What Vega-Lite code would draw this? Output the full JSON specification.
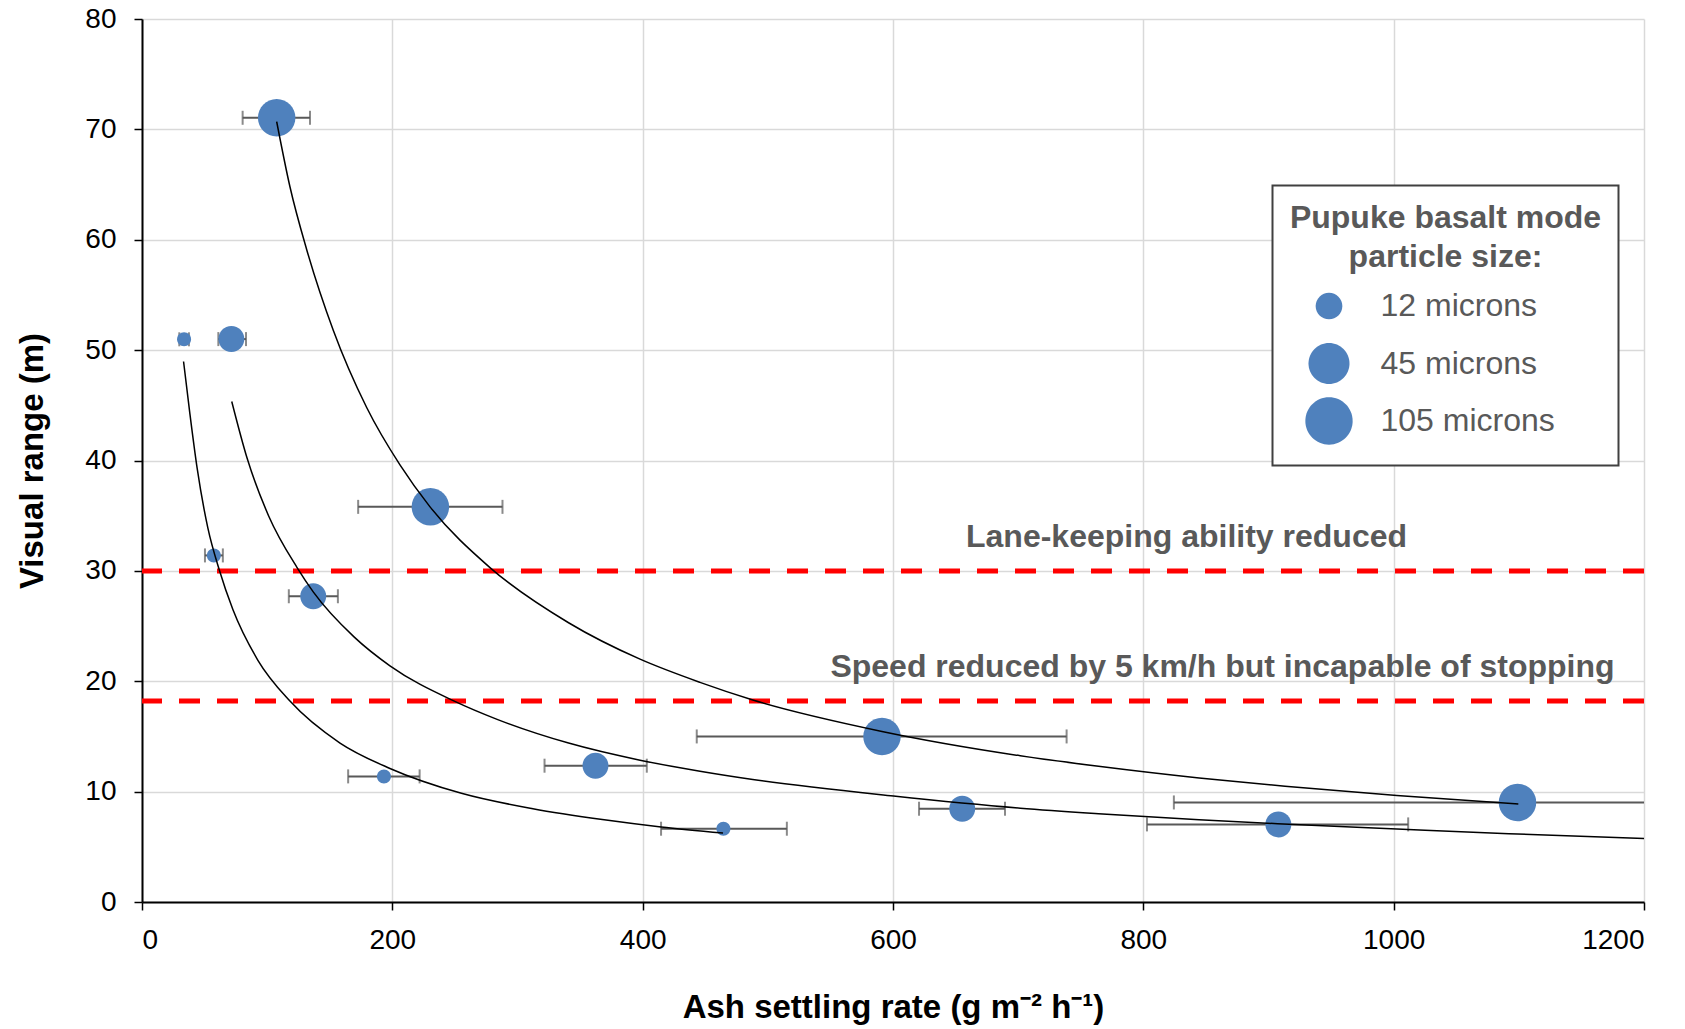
{
  "$schema": "https://vega.github.io/schema/vega-lite/v6.json",
  "width": 1502,
  "height": 883,
  "autosize": {"type": "none"},
  "padding": {"left": 142, "top": 19, "right": 41, "bottom": 127},
  "background": "white",
  "datasets": {
    "points": [
      {"x": 107.6, "y": 71.05, "xlo": 80.4, "xhi": 134.2, "um": 105},
      {"x": 33.6, "y": 50.98, "xlo": 29.8, "xhi": 37.5, "um": 12},
      {"x": 71.4, "y": 51.0, "xlo": 61.0, "xhi": 83.1, "um": 45},
      {"x": 230.4, "y": 35.8, "xlo": 172.7, "xhi": 288.0, "um": 105},
      {"x": 57.4, "y": 31.4, "xlo": 50.3, "xhi": 64.6, "um": 12},
      {"x": 136.8, "y": 27.7, "xlo": 117.3, "xhi": 156.5, "um": 45},
      {"x": 193.3, "y": 11.38, "xlo": 164.7, "xhi": 221.8, "um": 12},
      {"x": 362.3, "y": 12.35, "xlo": 321.6, "xhi": 403.3, "um": 45},
      {"x": 464.5, "y": 6.64, "xlo": 414.7, "xhi": 515.2, "um": 12},
      {"x": 591.2, "y": 15.0, "xlo": 443.2, "xhi": 738.7, "um": 105},
      {"x": 655.3, "y": 8.45, "xlo": 620.8, "xhi": 689.5, "um": 45},
      {"x": 907.9, "y": 7.03, "xlo": 802.9, "xhi": 1011.6, "um": 45},
      {"x": 1098.9, "y": 9.02, "xlo": 824.4, "xhi": 1373.4, "um": 105}
    ],
    "curves": [
      {"curve": "12", "x": 33.2, "y": 48.97},
      {"curve": "12", "x": 38.3, "y": 44.2},
      {"curve": "12", "x": 44.05, "y": 39.3},
      {"curve": "12", "x": 52.6, "y": 33.9},
      {"curve": "12", "x": 61.7, "y": 30.1},
      {"curve": "12", "x": 72.6, "y": 26.5},
      {"curve": "12", "x": 92.6, "y": 21.9},
      {"curve": "12", "x": 118.2, "y": 18.2},
      {"curve": "12", "x": 158.2, "y": 14.4},
      {"curve": "12", "x": 198.1, "y": 12.1},
      {"curve": "12", "x": 255.2, "y": 9.85},
      {"curve": "12", "x": 312.3, "y": 8.45},
      {"curve": "12", "x": 369.3, "y": 7.45},
      {"curve": "12", "x": 414.7, "y": 6.8},
      {"curve": "12", "x": 464.2, "y": 6.25},
      {"curve": "45", "x": 71.7, "y": 45.35},
      {"curve": "45", "x": 84.0, "y": 40.2},
      {"curve": "45", "x": 101.1, "y": 35.0},
      {"curve": "45", "x": 123.9, "y": 30.3},
      {"curve": "45", "x": 136.8, "y": 28.1},
      {"curve": "45", "x": 169.6, "y": 24.0},
      {"curve": "45", "x": 198.1, "y": 21.4},
      {"curve": "45", "x": 249.5, "y": 18.2},
      {"curve": "45", "x": 283.7, "y": 16.55},
      {"curve": "45", "x": 340.8, "y": 14.4},
      {"curve": "45", "x": 397.9, "y": 12.85},
      {"curve": "45", "x": 445.8, "y": 11.85},
      {"curve": "45", "x": 488.0, "y": 11.1},
      {"curve": "45", "x": 600.4, "y": 9.6},
      {"curve": "45", "x": 701.7, "y": 8.5},
      {"curve": "45", "x": 764.2, "y": 8.0},
      {"curve": "45", "x": 844.6, "y": 7.45},
      {"curve": "45", "x": 907.3, "y": 7.09},
      {"curve": "45", "x": 1002.6, "y": 6.61},
      {"curve": "45", "x": 1092.1, "y": 6.18},
      {"curve": "45", "x": 1200, "y": 5.76},
      {"curve": "105", "x": 107.6, "y": 70.7},
      {"curve": "105", "x": 118.2, "y": 64.8},
      {"curve": "105", "x": 131.6, "y": 59.1},
      {"curve": "105", "x": 152.8, "y": 51.8},
      {"curve": "105", "x": 179.5, "y": 44.8},
      {"curve": "105", "x": 206.1, "y": 39.6},
      {"curve": "105", "x": 230.1, "y": 35.8},
      {"curve": "105", "x": 278.0, "y": 30.3},
      {"curve": "105", "x": 340.8, "y": 25.3},
      {"curve": "105", "x": 397.9, "y": 22.0},
      {"curve": "105", "x": 445.8, "y": 19.9},
      {"curve": "105", "x": 488.0, "y": 18.3},
      {"curve": "105", "x": 591.2, "y": 15.45},
      {"curve": "105", "x": 701.7, "y": 13.25},
      {"curve": "105", "x": 764.2, "y": 12.3},
      {"curve": "105", "x": 844.6, "y": 11.24},
      {"curve": "105", "x": 913.2, "y": 10.49},
      {"curve": "105", "x": 1002.6, "y": 9.64},
      {"curve": "105", "x": 1099.6, "y": 8.88}
    ],
    "thresholds": [
      {"level": 30},
      {"level": 18.2}
    ],
    "notes": [
      {"label": "Lane-keeping ability reduced", "x": 834.5, "y": 32.2},
      {"label": "Speed reduced by 5 km/h but incapable of stopping", "x": 863.2, "y": 20.4}
    ]
  },
  "layer": [
    {
      "data": {"name": "thresholds"},
      "mark": {"type": "rule", "color": "#ff0000", "strokeWidth": 5, "strokeDash": [21, 17]},
      "encoding": {
        "y": {"field": "level", "type": "quantitative", "title": "Visual range (m)"}
      }
    },
    {
      "data": {"name": "notes"},
      "mark": {"type": "text", "font": "Liberation Sans", "fontSize": 32, "fontWeight": "bold", "color": "#595959", "align": "center", "baseline": "alphabetic"},
      "encoding": {
        "x": {"field": "x", "type": "quantitative", "title": "Ash settling rate (g m⁻² h⁻¹)"},
        "y": {"field": "y", "type": "quantitative", "title": "Visual range (m)"},
        "text": {"field": "label"}
      }
    },
    {
      "data": {"name": "points"},
      "mark": {"type": "rule", "color": "#595959", "strokeWidth": 2, "clip": true},
      "encoding": {
        "x": {"field": "xlo", "type": "quantitative", "title": "Ash settling rate (g m⁻² h⁻¹)"},
        "x2": {"field": "xhi"},
        "y": {"field": "y", "type": "quantitative", "title": "Visual range (m)"}
      }
    },
    {
      "data": {"name": "points"},
      "mark": {"type": "tick", "orient": "vertical", "color": "#595959", "size": 14, "thickness": 2, "clip": true},
      "encoding": {
        "x": {"field": "xlo", "type": "quantitative", "title": "Ash settling rate (g m⁻² h⁻¹)"},
        "y": {"field": "y", "type": "quantitative", "title": "Visual range (m)"}
      }
    },
    {
      "data": {"name": "points"},
      "mark": {"type": "tick", "orient": "vertical", "color": "#595959", "size": 14, "thickness": 2, "clip": true},
      "encoding": {
        "x": {"field": "xhi", "type": "quantitative", "title": "Ash settling rate (g m⁻² h⁻¹)"},
        "y": {"field": "y", "type": "quantitative", "title": "Visual range (m)"}
      }
    },
    {
      "data": {"name": "points"},
      "mark": {"type": "point", "filled": true, "color": "#4f81bd", "opacity": 1, "strokeWidth": 0},
      "encoding": {
        "x": {
          "field": "x", "type": "quantitative", "title": "Ash settling rate (g m⁻² h⁻¹)",
          "scale": {"domain": [0, 1200], "nice": false, "zero": true},
          "axis": {"values": [0, 200, 400, 600, 800, 1000, 1200], "format": "d", "labelPadding": 16, "titlePadding": 37}
        },
        "y": {
          "field": "y", "type": "quantitative", "title": "Visual range (m)",
          "scale": {"domain": [0, 80], "nice": false},
          "axis": {"values": [0, 10, 20, 30, 40, 50, 60, 70, 80], "format": "d", "labelPadding": 18, "titlePadding": 35}
        },
        "size": {
          "field": "um", "type": "quantitative",
          "scale": {"type": "linear", "domain": [12, 105], "range": [615, 1406], "zero": false},
          "legend": null
        },
        "shape": {
          "field": "um", "type": "nominal",
          "scale": {
            "domain": [12, 45, 105],
            "range": [
              "M-0.5645,0A0.5645,0.5645,0,1,0,0.5645,0A0.5645,0.5645,0,1,0,-0.5645,0Z",
              "M-0.8668,0A0.8668,0.8668,0,1,0,0.8668,0A0.8668,0.8668,0,1,0,-0.8668,0Z",
              "M-1,0A1,1,0,1,0,1,0A1,1,0,1,0,-1,0Z"
            ]
          },
          "legend": {
            "orient": "none",
            "legendX": 1130.5,
            "legendY": 166.5,
            "labelExpr": "datum.label + ' microns'",
            "title": ["Pupuke basalt mode", "particle size:"],
            "titleFont": "Liberation Sans",
            "titleFontSize": 32,
            "titleFontWeight": "bold",
            "titleColor": "#595959",
            "titleAlign": "center",
            "titleAnchor": "middle",
            "titleLineHeight": 39,
            "titlePadding": 8,
            "titleLimit": 600,
            "labelLimit": 600,
            "labelFont": "Liberation Sans",
            "labelFontSize": 32,
            "labelColor": "#595959",
            "labelOffset": 27,
            "padding": 17,
            "symbolSize": 2237,
            "symbolOffset": -31,
            "rowPadding": 2.5,
            "gridAlign": "all",
            "strokeColor": "#404040",
            "fillColor": "white"
          }
        }
      }
    },
    {
      "data": {"name": "curves"},
      "mark": {"type": "line", "color": "black", "strokeWidth": 1.5, "interpolate": "monotone", "clip": true},
      "encoding": {
        "x": {"field": "x", "type": "quantitative", "title": "Ash settling rate (g m⁻² h⁻¹)"},
        "y": {"field": "y", "type": "quantitative", "title": "Visual range (m)"},
        "detail": {"field": "curve"},
        "order": {"field": "x", "type": "quantitative"}
      }
    }
  ],
  "config": {
    "view": {"stroke": null},
    "legend": {"strokeWidth": 2},
    "axis": {
      "grid": true,
      "gridColor": "#d9d9d9",
      "gridWidth": 1.5,
      "domainColor": "black",
      "domainWidth": 2,
      "tickColor": "black",
      "tickWidth": 1.5,
      "tickSize": 8,
      "labelFont": "Liberation Sans",
      "labelFontSize": 28,
      "labelColor": "black",
      "titleFont": "Liberation Sans",
      "titleFontSize": 33,
      "titleFontWeight": "bold",
      "titleColor": "black"
    }
  }
}
